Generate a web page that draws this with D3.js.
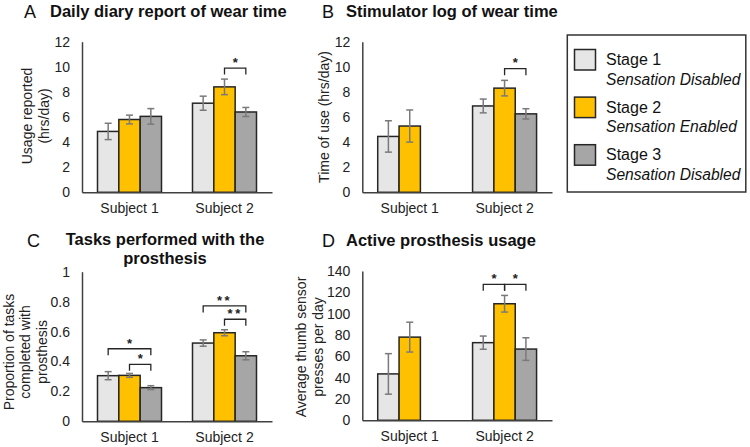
<!DOCTYPE html>
<html>
<head>
<meta charset="utf-8">
<script src="https://cdn.jsdelivr.net/npm/d3@7"></script>
<style>
  body { margin: 0; background: #fff; }
  svg { font-family: "Liberation Sans", Arial, sans-serif; }
</style>
</head>
<body>
<div id="chart"></div>
<script>
// categories
var subjects = ["Subject 1", "Subject 2"];
var stages = ["Stage 1", "Stage 2", "Stage 3"];
var stageNotes = ["Sensation Disabled", "Sensation Enabled", "Sensation Disabled"];
var stageColors = ["#e6e6e6", "#ffc000", "#a6a6a6"];

// A: daily diary (hrs/day), mean and +/- error, [subject][stage]
var diaryMean = [[4.85, 5.8, 6.05], [7.1, 8.4, 6.4]];
var diaryErr = [[0.65, 0.35, 0.62], [0.56, 0.62, 0.36]];
var diarySig = [{ subject: 1, from: 1, to: 2, level: 9.9, label: "*" }];

// B: stimulator log (hrs/day); stage 3 missing for subject 1
var logMean = [[4.45, 5.28, null], [6.88, 8.3, 6.25]];
var logErr = [[1.25, 1.28, null], [0.55, 0.62, 0.41]];
var logSig = [{ subject: 1, from: 1, to: 2, level: 9.85, label: "*" }];

// C: proportion of tasks completed with prosthesis
var tasksMean = [[0.305, 0.307, 0.225], [0.523, 0.592, 0.438]];
var tasksErr = [[0.027, 0.013, 0.013], [0.021, 0.02, 0.027]];
var tasksSig = [
  { subject: 0, from: 0, to: 2, level: 0.485, label: "*" },
  { subject: 0, from: 1, to: 2, level: 0.381, label: "*" },
  { subject: 1, from: 0, to: 2, level: 0.771, label: "**" },
  { subject: 1, from: 1, to: 2, level: 0.682, label: "**" }
];

// D: thumb sensor presses per day
var pressMean = [[43.5, 78, null], [72.8, 109.3, 66.8]];
var pressErr = [[19, 14, null], [6.2, 7.8, 10.6]];
var pressSig = [
  { subject: 1, from: 0, to: 1, level: 127.5, label: "*" },
  { subject: 1, from: 1, to: 2, level: 127.5, label: "*" }
];

var width = 750, height = 447;

var svg = d3.select("#chart")
  .append("svg")
  .attr("width", width)
  .attr("height", height);

function panel(opt) {
  var g = svg.append("g");

  var x = d3.scaleBand().domain(subjects).range([opt.left, opt.right]);
  var y = d3.scaleLinear().domain([0, opt.max]).range([opt.bottom, opt.top]);
  var groupW = 64;
  var xs = d3.scaleBand().domain(d3.range(3)).range([0, groupW]);

  // y axis
  var yAxis = g.append("g")
    .attr("transform", "translate(" + opt.left + ",0)")
    .call(d3.axisLeft(y).tickValues(opt.ticks).tickFormat(opt.fmt).tickSize(0).tickPadding(12).tickSizeOuter(0));
  yAxis.select(".domain").attr("stroke", "#404040").attr("stroke-width", 1.5);
  yAxis.selectAll("text").attr("font-size", "14px").attr("fill", "#222")
    .attr("font-family", "Liberation Sans, Arial, sans-serif");

  // bars
  var rows = [];
  opt.mean.forEach(function (s, i) {
    s.forEach(function (v, j) {
      if (v != null) rows.push({ s: i, k: j, v: v, e: opt.err[i][j] });
    });
  });

  function bx(d) {
    return x(subjects[d.s]) + (x.bandwidth() - groupW) / 2 + xs(d.k);
  }

  g.selectAll("rect.bar")
    .data(rows)
    .enter().append("rect")
    .attr("class", "bar")
    .attr("x", bx)
    .attr("y", function (d) { return y(d.v); })
    .attr("width", xs.bandwidth())
    .attr("height", function (d) { return y(0) - y(d.v); })
    .attr("fill", function (d) { return stageColors[d.k]; })
    .attr("stroke", "#262626")
    .attr("stroke-width", 1.5);

  // error bars
  var eb = g.selectAll("g.err")
    .data(rows)
    .enter().append("g")
    .attr("class", "err")
    .attr("stroke", "#7a7a7a")
    .attr("stroke-width", 1.5);
  eb.append("line")
    .attr("x1", function (d) { return bx(d) + xs.bandwidth() / 2; })
    .attr("x2", function (d) { return bx(d) + xs.bandwidth() / 2; })
    .attr("y1", function (d) { return y(d.v + d.e); })
    .attr("y2", function (d) { return y(d.v - d.e); });
  [1, -1].forEach(function (sg) {
    eb.append("line")
      .attr("x1", function (d) { return bx(d) + xs.bandwidth() / 2 - 3.5; })
      .attr("x2", function (d) { return bx(d) + xs.bandwidth() / 2 + 3.5; })
      .attr("y1", function (d) { return y(d.v + sg * d.e); })
      .attr("y2", function (d) { return y(d.v + sg * d.e); });
  });

  // x axis
  var xAxis = g.append("g")
    .attr("transform", "translate(0," + opt.bottom + ")")
    .call(d3.axisBottom(x).tickSize(0).tickPadding(11).tickSizeOuter(0));
  xAxis.select(".domain").attr("stroke", "#404040").attr("stroke-width", 1.5);
  xAxis.selectAll("text").attr("font-size", "14px").attr("fill", "#222")
    .attr("font-family", "Liberation Sans, Arial, sans-serif");

  // significance brackets
  opt.sig.forEach(function (s) {
    var cx = function (k) { return bx({ s: s.subject, k: k }) + xs.bandwidth() / 2; };
    var x1 = cx(s.from), x2 = cx(s.to), yy = y(s.level);
    g.append("path")
      .attr("d", "M" + x1 + "," + (yy + 6.5) + "V" + yy + "H" + x2 + "V" + (yy + 6.5))
      .attr("fill", "none")
      .attr("stroke", "#262626")
      .attr("stroke-width", 1.3);
    g.append("text")
      .attr("x", (x1 + x2) / 2)
      .attr("y", yy - 1.2)
      .attr("text-anchor", "middle")
      .attr("font-size", "13px")
      .attr("font-weight", "bold")
      .attr("letter-spacing", s.label.length > 1 ? "2.5px" : "0px")
      .attr("fill", "#222")
      .text(s.label);
  });

  // y label (rotated)
  opt.ylabel.forEach(function (line, i) {
    g.append("text")
      .attr("transform", "translate(" + (opt.ylabelX + i * 16.8) + "," + opt.ylabelY + ") rotate(-90)")
      .attr("text-anchor", "middle")
      .attr("font-size", "14px")
      .attr("fill", "#222")
      .text(line);
  });

  // panel letter and title
  g.append("text")
    .attr("x", opt.letterX)
    .attr("y", opt.letterY)
    .attr("font-size", "18px")
    .attr("fill", "#111")
    .text(opt.letter);
  opt.title.forEach(function (line, i) {
    g.append("text")
      .attr("x", opt.titleX)
      .attr("y", opt.titleY + i * 19)
      .attr("text-anchor", opt.titleAnchor)
      .attr("font-size", "16.5px")
      .attr("font-weight", "bold")
      .attr("fill", "#111")
      .text(line);
  });
}

panel({
  left: 82, right: 272, top: 41.7, bottom: 192.3, max: 12,
  ticks: d3.range(0, 13, 2), fmt: d3.format("d"),
  mean: diaryMean, err: diaryErr, sig: diarySig,
  ylabel: ["Usage reported", "(hrs/day)"], ylabelX: 32, ylabelY: 116,
  letter: "A", letterX: 24, letterY: 17.5,
  title: ["Daily diary report of wear time"], titleX: 50, titleY: 16.5, titleAnchor: "start"
});

panel({
  left: 362.3, right: 552, top: 41.7, bottom: 192.3, max: 12,
  ticks: d3.range(0, 13, 2), fmt: d3.format("d"),
  mean: logMean, err: logErr, sig: logSig,
  ylabel: ["Time of use (hrs/day)"], ylabelX: 329, ylabelY: 117,
  letter: "B", letterX: 322, letterY: 17.5,
  title: ["Stimulator log of wear time"], titleX: 346, titleY: 16.5, titleAnchor: "start"
});

panel({
  left: 82, right: 272, top: 271.7, bottom: 421.3, max: 1,
  ticks: d3.range(0, 1.01, 0.2), fmt: function (d) { return d === 0 ? "0" : d === 1 ? "1" : d3.format(".1f")(d); },
  mean: tasksMean, err: tasksErr, sig: tasksSig,
  ylabel: ["Proportion of tasks", "completed with", "prosthesis"], ylabelX: 13.5, ylabelY: 352,
  letter: "C", letterX: 27, letterY: 247,
  title: ["Tasks performed with the", "prosthesis"], titleX: 165, titleY: 245, titleAnchor: "middle"
});

panel({
  left: 362.3, right: 552, top: 271, bottom: 420.3, max: 140,
  ticks: d3.range(0, 141, 20), fmt: d3.format("d"),
  mean: pressMean, err: pressErr, sig: pressSig,
  ylabel: ["Average thumb sensor", "presses per day"], ylabelX: 306, ylabelY: 347,
  letter: "D", letterX: 322, letterY: 247,
  title: ["Active prosthesis usage"], titleX: 346, titleY: 246, titleAnchor: "start"
});

// legend
var legend = svg.append("g").attr("class", "legend");
legend.append("rect")
  .attr("x", 567.3).attr("y", 35)
  .attr("width", 178.5).attr("height", 157)
  .attr("fill", "#fff")
  .attr("stroke", "#333")
  .attr("stroke-width", 1.5);

var item = legend.selectAll("g.item")
  .data(stages)
  .enter().append("g")
  .attr("class", "item")
  .attr("transform", function (d, i) { return "translate(0," + (i * 47.6) + ")"; });

item.append("rect")
  .attr("x", 574.5).attr("y", 49.5)
  .attr("width", 21).attr("height", 20.5)
  .attr("fill", function (d, i) { return stageColors[i]; })
  .attr("stroke", "#262626")
  .attr("stroke-width", 1.5);
item.append("text")
  .attr("x", 606).attr("y", 65)
  .attr("font-size", "16px")
  .attr("fill", "#111")
  .text(function (d) { return d; });
item.append("text")
  .attr("x", 606).attr("y", 84.5)
  .attr("font-size", "15.6px")
  .attr("font-style", "italic")
  .attr("fill", "#111")
  .text(function (d, i) { return stageNotes[i]; });
</script>
</body>
</html>
